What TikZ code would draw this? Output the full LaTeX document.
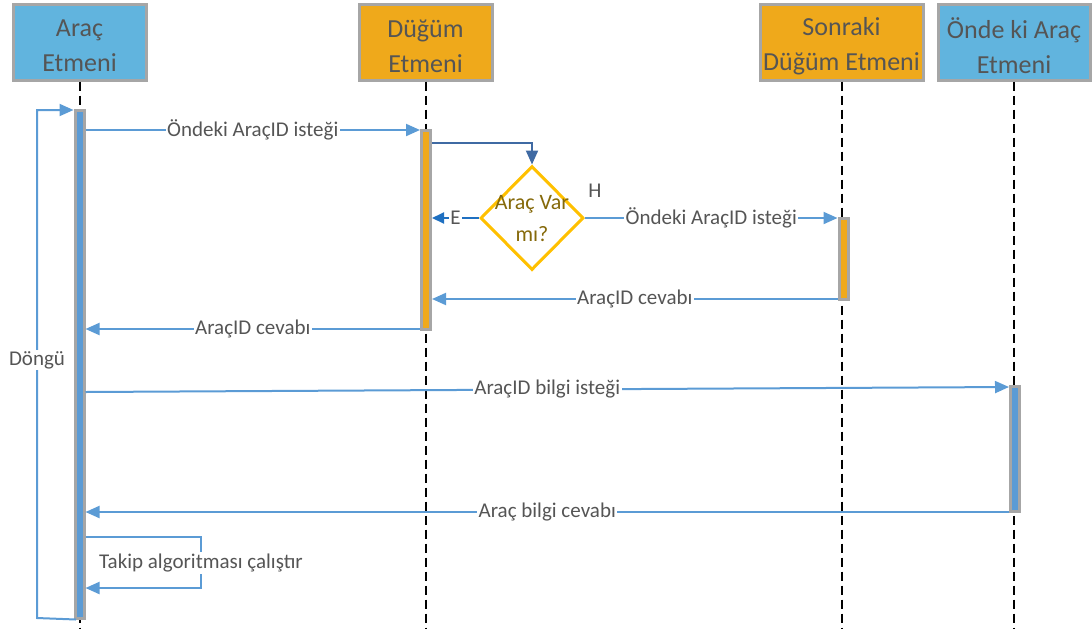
\documentclass[tikz,border=0pt]{standalone}
\usepackage{fontspec}
\setmainfont{Carlito}
\usetikzlibrary{shapes.geometric,arrows.meta}
\definecolor{agentblue}{HTML}{61B4DE}
\definecolor{agentorange}{HTML}{EFA91B}
\definecolor{frame}{HTML}{A6A6A6}
\definecolor{msgblue}{HTML}{5B9BD5}
\definecolor{darkarrow}{HTML}{3F6AA3}
\definecolor{yesarrow}{HTML}{1F70C1}
\definecolor{gold}{HTML}{FFC000}
\definecolor{olive}{HTML}{85690A}
\definecolor{txt}{HTML}{555555}
\tikzset{
  header/.style={draw=frame, line width=3pt, inner sep=0pt, minimum height=76pt},
  htext/.style={text=txt, align=center, yshift=-4pt,
    font=\fontsize{26}{35}\selectfont},
  life/.style={black, line width=2pt, dash pattern=on 9pt off 5pt},
  actbar/.style={draw=frame, line width=3pt, inner sep=0pt, minimum width=9pt},
  msg/.style={msgblue, line width=2pt, -{Triangle[length=14pt,width=12pt]}},
  lbl/.style={fill=white, text=txt, inner sep=1.5pt, font=\fontsize{21}{24}\selectfont},
  decision/.style={diamond, draw=gold, line width=3pt, inner sep=0pt,
    minimum width=103pt, minimum height=104pt},
  dtext/.style={text=olive, align=center, yshift=-1pt, font=\fontsize{22}{32}\selectfont}
}
\begin{document}
\begin{tikzpicture}[x=1pt, y=-1pt]
\useasboundingbox (0,0) rectangle (1092,630);

% agent headers
\node[header, fill=agentblue, minimum width=133pt,
  label={[htext]center:Araç\\Etmeni}] (hA) at (79.5,42) {};
\node[header, fill=agentorange, minimum width=133pt,
  label={[htext]center:Düğüm\\Etmeni}] (hD) at (425.5,42) {};
\node[header, fill=agentorange, minimum width=163pt,
  label={[htext]center:Sonraki\\Düğüm Etmeni}] (hS) at (841.5,42) {};
\node[header, fill=agentblue, minimum width=152pt,
  label={[htext]center:Önde ki Araç\\Etmeni}] (hO) at (1014,42) {};

% lifelines
\draw[life] (hA.south) -- (hA.south |- 0,628);
\draw[life] (hD.south) -- (hD.south |- 0,628);
\draw[life] (hS.south) -- (hS.south |- 0,628);
\draw[life] (hO.south) -- (hO.south |- 0,628);

% activation bars
\node[actbar, fill=msgblue, minimum height=508pt] (bA) at (79.5,364) {};
\node[actbar, fill=agentorange, minimum height=199pt] (bD) at (426,229.5) {};
\node[actbar, fill=agentorange, minimum height=81pt] (bS) at (843.5,258.5) {};
\node[actbar, fill=msgblue, minimum height=125pt] (bO) at (1015,449) {};

% decision
\node[decision, label={[dtext]center:Araç Var\\mı?}] (dia) at (532,218) {};
\node[text=txt, font=\fontsize{21}{24}\selectfont] (H) at (595,191) {H};

% loop frame
\coordinate (lb) at (bA.south -| 76,0);
\draw[msg] (lb) -- (37,618) -- (37,110) -- (bA.west |- 0,110);
\node[lbl] (loop) at (37,360) {Döngü};

% messages
\draw[msg] (bA.east |- 0,130) -- node[lbl] {Öndeki AraçID isteği} (bD.west |- 0,130);
\draw[darkarrow, line width=2pt, -{Triangle[length=14pt,width=12pt]}]
  (bD.east |- 0,143) -| (dia.north);
\draw[yesarrow, line width=2pt, -{Triangle[length=12pt,width=11pt]}]
  (dia.west) -- node[lbl, fill=white] {E} (bD.east |- dia.west);
\draw[msg] (dia.east) -- node[lbl, pos=0.5] {Öndeki AraçID isteği} (bS.west |- dia.east);
\draw[msg] (bS.west |- 0,299) -- node[lbl] {AraçID cevabı} (bD.east |- 0,299);
\draw[msg] (bD.west |- 0,329) -- node[lbl] {AraçID cevabı} (bA.east |- 0,329);
\draw[msg] (bA.east |- 0,392) -- node[lbl] {AraçID bilgi isteği} (bO.west |- 0,387);
\draw[msg] (bO.west |- 0,512) -- node[lbl] {Araç bilgi cevabı} (bA.east |- 0,512);

% self message
\coordinate (sr) at (201,563);
\draw[msg] (bA.east |- 0,537) -| (sr) |- (bA.east |- 0,588);
\node[lbl] (take) at (sr) {Takip algoritması çalıştır};
\end{tikzpicture}
\end{document}
